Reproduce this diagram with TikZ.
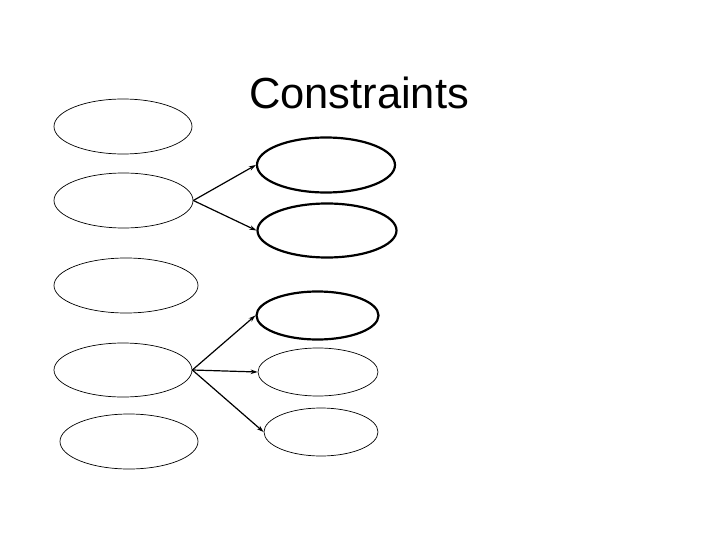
\documentclass[tikz,border=0pt]{standalone}
\usepackage{fontspec}
\setmainfont{Liberation Sans}
\usetikzlibrary{shapes.geometric,arrows.meta}
\begin{document}
\begin{tikzpicture}[
	x=1pt, y=-1pt,
	oval/.style={ ellipse, draw, line width=0.7pt, inner sep=0pt },
	ovalb/.style={ ellipse, draw, line width=2.2pt, inner sep=0pt },
	link/.style={ line width=1.2pt, -{Stealth[length=7pt,width=4.5pt]} }
]
\useasboundingbox (0,0) rectangle (720,540);

\node at (359,93) (T) {\fontsize{43.5}{48}\selectfont Constraints};

\node at (123,126.5) (L1) [oval,minimum width=138pt,minimum height=55pt] {};
\node at (123.5,200.5) (L2) [oval,minimum width=139pt,minimum height=55pt] {};
\node at (126,285.5) (L3) [oval,minimum width=144pt,minimum height=55pt] {};
\node at (123,370) (L4) [oval,minimum width=138pt,minimum height=54pt] {};
\node at (129,441.5) (L5) [oval,minimum width=138pt,minimum height=55pt] {};

\node at (326,165) (R1) [ovalb,minimum width=138pt,minimum height=55pt] {};
\node at (327,230.5) (R2) [ovalb,minimum width=139pt,minimum height=54pt] {};
\node at (317.5,315.5) (R3) [ovalb,minimum width=122pt,minimum height=48pt] {};
\node at (318,372) (R4) [oval,minimum width=120pt,minimum height=48pt] {};
\node at (321,432) (R5) [oval,minimum width=114pt,minimum height=48pt] {};

\foreach \p in {R1,R2} \draw[link] (L2.east) to (\p.west);
\foreach \p in {R3,R4,R5} \draw[link] (L4.east) to (\p.west);

\end{tikzpicture}
\end{document}
